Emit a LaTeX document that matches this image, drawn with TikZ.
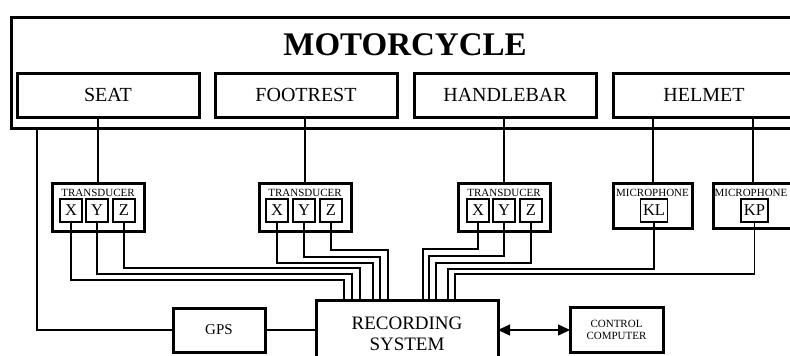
\documentclass[tikz,border=0pt]{standalone}
\usepackage{fontspec}
\setmainfont{Liberation Serif}
\usetikzlibrary{arrows.meta}
\begin{document}
\begin{tikzpicture}[x=1pt,y=-1pt,
  thickbox/.style={draw,line width=3pt,inner sep=0pt,outer sep=0pt,align=center},
  smallbox/.style={draw,line width=1.5pt,inner sep=0pt,outer sep=0pt,minimum width=22pt,minimum height=23pt,font=\fontsize{16.5}{18}\selectfont},
  wire/.style={line width=1.5pt},
  toplabel/.style={thickbox,minimum width=182pt,minimum height=44pt,font=\fontsize{20}{22}\selectfont},
  trbox/.style={thickbox,minimum width=92pt,minimum height=48pt},
  micbox/.style={thickbox,minimum width=79pt,minimum height=45pt},
  smalltxt/.style={font=\fontsize{11}{12.5}\selectfont,inner sep=0pt}
]
\useasboundingbox (0,0) rectangle (790,356);
\clip (0,0) rectangle (790,356);

% Motorcycle frame
\node[thickbox,minimum width=800pt,minimum height=111pt,anchor=north west] (moto) at (11.5,17.5) {};
\node[font=\fontsize{33}{36}\selectfont\bfseries,inner sep=0pt] (motolbl) at (405,45) {MOTORCYCLE};

\node[toplabel] (seat) at (108,95) {SEAT};
\node[toplabel] (foot) at (306,95) {FOOTREST};
\node[toplabel] (handle) at (505,95) {HANDLEBAR};
\node[toplabel] (helmet) at (704,95) {HELMET};

% Transducers
\node[trbox] (t1) at (98,207) {};
\node[smalltxt] (t1l) at (98,192.5) {TRANSDUCER};
\node[smallbox] (t1x) at (71,210.5) {X};
\node[smallbox] (t1y) at (97,210.5) {Y};
\node[smallbox] (t1z) at (124,210.5) {Z};

\node[trbox] (t2) at (305,207) {};
\node[smalltxt] (t2l) at (305,192.5) {TRANSDUCER};
\node[smallbox] (t2x) at (277,210.5) {X};
\node[smallbox] (t2y) at (304,210.5) {Y};
\node[smallbox] (t2z) at (331,210.5) {Z};

\node[trbox] (t3) at (504,207) {};
\node[smalltxt] (t3l) at (504,192.5) {TRANSDUCER};
\node[smallbox] (t3x) at (478,210.5) {X};
\node[smallbox] (t3y) at (504,210.5) {Y};
\node[smallbox] (t3z) at (531,210.5) {Z};

% Microphones
\node[micbox] (m1) at (653,205.5) {};
\node[smalltxt] (m1l) at (652.5,192.5) {MICROPHONE};
\node[smallbox,minimum width=27pt] (kl) at (654,210.5) {KL};

\node[micbox] (m2) at (753,205.5) {};
\node[smalltxt] (m2l) at (751,192.5) {MICROPHONE};
\node[smallbox,minimum width=27pt] (kp) at (754.5,210.5) {KP};

% Bottom boxes
\node[thickbox,minimum width=92pt,minimum height=44pt,font=\fontsize{15}{17}\selectfont] (gps) at (219,330) {GPS};
\node[thickbox,minimum width=182pt,minimum height=68pt,font=\fontsize{19}{21}\selectfont] (rec) at (407,334) {RECORDING\\SYSTEM};
\node[thickbox,minimum width=93pt,minimum height=45pt,font=\fontsize{11}{12.5}\selectfont] (ctrl) at (616.5,330) {CONTROL\\COMPUTER};

% Sensor links from motorcycle parts
\draw[wire] (t1.north) -- (t1.north |- seat.south);
\draw[wire] (t2.north) -- (t2.north |- foot.south);
\draw[wire] (t3.north) -- (t3.north |- handle.south);
\draw[wire] (m1.north) -- (m1.north |- helmet.south);
\draw[wire] (m2.north) -- (m2.north |- helmet.south);

% Seat to GPS
\draw[wire] (moto.south -| 37,0) |- (gps.west);
\draw[wire] (gps.east) -- (rec.west |- gps.east);

% Wires to recording system (left)
\draw[wire] (t1x.south) |- (344,280) -- (rec.north -| 344,0);
\draw[wire] (t1y.south) |- (352,274) -- (rec.north -| 352,0);
\draw[wire] (t1z.south) |- (360,268) -- (rec.north -| 360,0);
\draw[wire] (t2x.south) |- (373,263) -- (rec.north -| 373,0);
\draw[wire] (t2y.south) |- (380,257) -- (rec.north -| 380,0);
\draw[wire] (t2z.south) |- (388,250) -- (rec.north -| 388,0);
% right
\draw[wire] (t3x.south) |- (423,249) -- (rec.north -| 423,0);
\draw[wire] (t3y.south) |- (429,256) -- (rec.north -| 429,0);
\draw[wire] (t3z.south) |- (436,263) -- (rec.north -| 436,0);
\draw[wire] (kl.south) |- (448,269) -- (rec.north -| 448,0);
\draw[wire] (kp.south) |- (455,274) -- (rec.north -| 455,0);

% Recording <-> control
\draw[wire,{Triangle[length=12pt,width=11pt]}-{Triangle[length=12pt,width=11pt]}] (rec.east |- ctrl.west) -- (ctrl.west);
\end{tikzpicture}
\end{document}
